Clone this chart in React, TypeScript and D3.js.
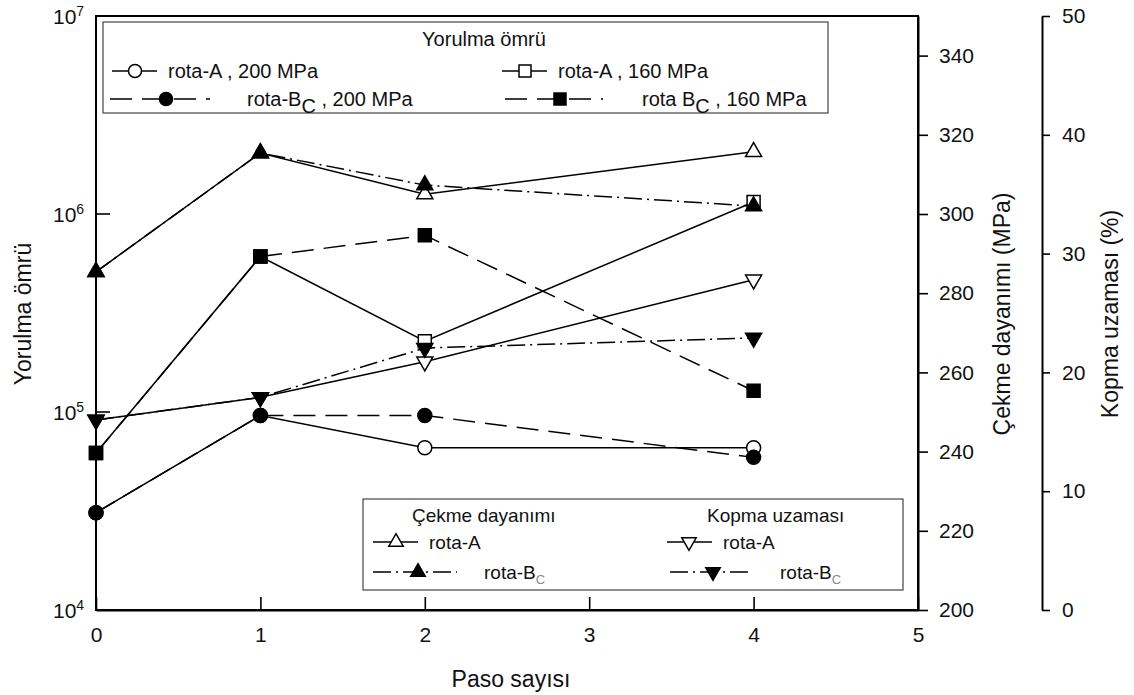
import React, { useEffect, useRef } from 'react';
import * as d3 from 'd3';

// paso sayisi (x)
const paso = [0, 1, 2, 4];

// Yorulma omru (cycles, log axis)
const fatigueA200 = [3.1e4, 9.6e4, 6.6e4, 6.6e4];
const fatigueA160 = [6.2e4, 6.1e5, 2.28e5, 1.15e6];
const fatigueB200 = [3.1e4, 9.6e4, 9.6e4, 5.9e4];
const fatigueB160 = [6.2e4, 6.1e5, 7.8e5, 1.28e5];

// Cekme dayanimi (MPa)
const cekmeA = [285.4, 315.4, 305, 315.7];
const cekmeB = [285.4, 315.4, 307.3, 302];

// Kopma uzamasi (%)
const kopmaA = [16, 17.9, 20.9, 27.8];
const kopmaB = [16, 17.9, 22.05, 22.9];

const xTicks = [0, 1, 2, 3, 4, 5];
const logTicks = [4, 5, 6, 7];
const cekmeTicks = [200, 220, 240, 260, 280, 300, 320, 340];
const kopmaTicks = [0, 10, 20, 30, 40, 50];

const FONT = '"Liberation Sans", Arial, sans-serif';
const DASH = '22,10';
const DASHDOT = '18,5,2,5';

export default function App() {
  const ref = useRef<SVGSVGElement>(null);

  useEffect(() => {
    document.body.style.margin = '0';
    const svg = d3.select(ref.current);
    svg.selectAll('*').remove();
    svg.style('font-family', FONT);

    const x = d3.scaleLinear().domain([0, 5]).range([96, 918]);
    const yLog = d3.scaleLog().domain([1e4, 1e7]).range([610, 16]);
    const yC = d3.scaleLinear().domain([200, 350]).range([610, 16]);
    const yK = d3.scaleLinear().domain([0, 50]).range([610, 16]);

    // frame
    svg.append('rect')
      .attr('x', 96).attr('y', 16).attr('width', 822).attr('height', 594)
      .attr('fill', 'none').attr('stroke', '#000').attr('stroke-width', 2);

    // bottom axis
    const xAxis = svg.append('g')
      .attr('transform', 'translate(0,610)')
      .call(d3.axisBottom(x).tickValues(xTicks).tickSizeInner(-13).tickSizeOuter(0).tickPadding(17).tickFormat(d3.format('d')));
    xAxis.select('.domain').attr('stroke-width', 2);
    xAxis.selectAll('line').attr('stroke-width', 1.6);
    xAxis.selectAll('text').attr('font-size', 21).attr('font-family', FONT).attr('fill', '#111');

    // left log axis (manual for superscripts)
    const left = svg.append('g');
    logTicks.forEach(function (e) {
      const yy = yLog(Math.pow(10, e));
      if (e === 5 || e === 6) {
        left.append('line').attr('x1', 96).attr('x2', 110).attr('y1', yy).attr('y2', yy)
          .attr('stroke', '#000').attr('stroke-width', 1.6);
      }
      const t = left.append('text').attr('x', 53).attr('y', yy + 8).attr('fill', '#111');
      t.append('tspan').attr('font-size', 21).text('10');
      t.append('tspan').attr('font-size', 14).attr('dy', -8).text(String(e));
    });

    // right axis: cekme
    const rC = svg.append('g')
      .attr('transform', 'translate(918,0)')
      .call(d3.axisRight(yC).tickValues(cekmeTicks).tickSizeInner(10).tickSizeOuter(0).tickPadding(11));
    rC.select('.domain').attr('stroke-width', 2);
    rC.selectAll('line').attr('stroke-width', 1.6);
    rC.selectAll('text').attr('font-size', 21).attr('font-family', FONT).attr('fill', '#111');

    // right axis: kopma
    const rK = svg.append('g')
      .attr('transform', 'translate(1042,0)')
      .call(d3.axisRight(yK).tickValues(kopmaTicks).tickSizeInner(8).tickSizeOuter(0).tickPadding(12));
    rK.select('.domain').attr('stroke-width', 2);
    rK.selectAll('line').attr('stroke-width', 1.6);
    rK.selectAll('text').attr('font-size', 21).attr('font-family', FONT).attr('fill', '#111');

    // axis titles
    svg.append('text').attr('x', 511).attr('y', 687).attr('text-anchor', 'middle')
      .attr('font-size', 23).attr('fill', '#111').text('Paso sayısı');
    svg.append('text').attr('transform', 'translate(31,314) rotate(-90)').attr('text-anchor', 'middle')
      .attr('font-size', 23).attr('fill', '#111').text('Yorulma ömrü');
    svg.append('text').attr('transform', 'translate(1010,314) rotate(-90)').attr('text-anchor', 'middle')
      .attr('font-size', 23).attr('fill', '#111').text('Çekme dayanımı (MPa)');
    svg.append('text').attr('transform', 'translate(1118,314) rotate(-90)').attr('text-anchor', 'middle')
      .attr('font-size', 23).attr('fill', '#111').text('Kopma uzaması (%)');

    // markers
    function marker(g, type, filled, cx, cy, big) {
      let sym = d3.symbolCircle, size = big ? 154 : 133, rot = 0;
      if (type === 'square') { sym = d3.symbolSquare; size = big ? 169 : 144; }
      if (type === 'up') { sym = d3.symbolTriangle; size = big ? 111 : 90; }
      if (type === 'down') { sym = d3.symbolTriangle; size = big ? 111 : 90; rot = 180; }
      g.append('path')
        .attr('d', d3.symbol().type(sym).size(size)())
        .attr('transform', 'translate(' + cx + ',' + cy + ') rotate(' + rot + ')')
        .attr('fill', filled ? '#000' : '#fff')
        .attr('stroke', '#000')
        .attr('stroke-width', 1.5);
    }

    function series(vals, yScale, dash, type, filled) {
      const g = svg.append('g');
      const line = d3.line<number>()
        .x(function (d, i) { return x(paso[i]); })
        .y(function (d) { return yScale(d); });
      g.append('path').datum(vals)
        .attr('d', line)
        .attr('fill', 'none').attr('stroke', '#000').attr('stroke-width', 1.5)
        .attr('stroke-dasharray', dash);
      vals.forEach(function (v, i) { marker(g, type, filled, x(paso[i]), yScale(v), true); });
    }

    series(fatigueA200, yLog, null, 'circle', false);
    series(fatigueA160, yLog, null, 'square', false);
    series(fatigueB200, yLog, DASH, 'circle', true);
    series(fatigueB160, yLog, DASH, 'square', true);
    series(cekmeA, yC, null, 'up', false);
    series(cekmeB, yC, DASHDOT, 'up', true);
    series(kopmaA, yK, null, 'down', false);
    series(kopmaB, yK, DASHDOT, 'down', true);

    // legends
    function entry(g, x1, x2, xm, y, dash, type, filled, tx, parts, fs, subStyle) {
      g.append('line').attr('x1', x1).attr('x2', x2).attr('y1', y).attr('y2', y)
        .attr('stroke', '#000').attr('stroke-width', 1.5).attr('stroke-dasharray', dash);
      marker(g, type, filled, xm, y, false);
      const t = g.append('text').attr('x', tx).attr('y', y + 7).attr('font-size', fs).attr('fill', '#111');
      parts.forEach(function (p) {
        const s = t.append('tspan').text(p.t);
        if (p.sub) {
          s.attr('dy', subStyle.dy).attr('font-size', subStyle.fs).attr('fill', subStyle.fill);
        } else if (p.back) {
          s.attr('dy', -subStyle.dy);
        }
      });
    }

    const lg1 = svg.append('g');
    lg1.append('rect').attr('x', 103).attr('y', 22).attr('width', 725).attr('height', 91)
      .attr('fill', '#fff').attr('stroke', '#444').attr('stroke-width', 1.2);
    lg1.append('text').attr('x', 484).attr('y', 46).attr('text-anchor', 'middle')
      .attr('font-size', 20).attr('fill', '#111').text('Yorulma ömrü');
    const sub1 = { dy: 7, fs: 20, fill: '#111' };
    entry(lg1, 112, 157, 135, 71, null, 'circle', false, 168, [{ t: 'rota-A , 200 MPa' }], 20, sub1);
    entry(lg1, 502, 547, 525, 71, null, 'square', false, 558, [{ t: 'rota-A , 160 MPa' }], 20, sub1);
    entry(lg1, 110, 210, 166, 99, DASH, 'circle', true, 247,
      [{ t: 'rota-B' }, { t: 'C', sub: true }, { t: ' , 200 MPa', back: true }], 20, sub1);
    entry(lg1, 505, 603, 560, 99, DASH, 'square', true, 642,
      [{ t: 'rota B' }, { t: 'C', sub: true }, { t: ' , 160 MPa', back: true }], 20, sub1);

    const lg2 = svg.append('g');
    lg2.append('rect').attr('x', 363).attr('y', 499).attr('width', 540).attr('height', 91)
      .attr('fill', '#fff').attr('stroke', '#444').attr('stroke-width', 1.2);
    lg2.append('text').attr('x', 412).attr('y', 522).attr('font-size', 19).attr('fill', '#111').text('Çekme dayanımı');
    lg2.append('text').attr('x', 707).attr('y', 522).attr('font-size', 19).attr('fill', '#111').text('Kopma uzaması');
    const sub2 = { dy: 5, fs: 13, fill: '#888' };
    entry(lg2, 373, 418, 396, 542, null, 'up', false, 429, [{ t: 'rota-A' }], 19, sub2);
    entry(lg2, 373, 457, 418, 572, DASHDOT, 'up', true, 484, [{ t: 'rota-B' }, { t: 'C', sub: true }], 19, sub2);
    entry(lg2, 667, 712, 689, 542, null, 'down', false, 723, [{ t: 'rota-A' }], 19, sub2);
    entry(lg2, 670, 752, 713, 572, DASHDOT, 'down', true, 780, [{ t: 'rota-B' }, { t: 'C', sub: true }], 19, sub2);
  }, []);

  return <svg ref={ref} width={1134} height={695} style={{ display: 'block', background: '#fff' }} />;
}
